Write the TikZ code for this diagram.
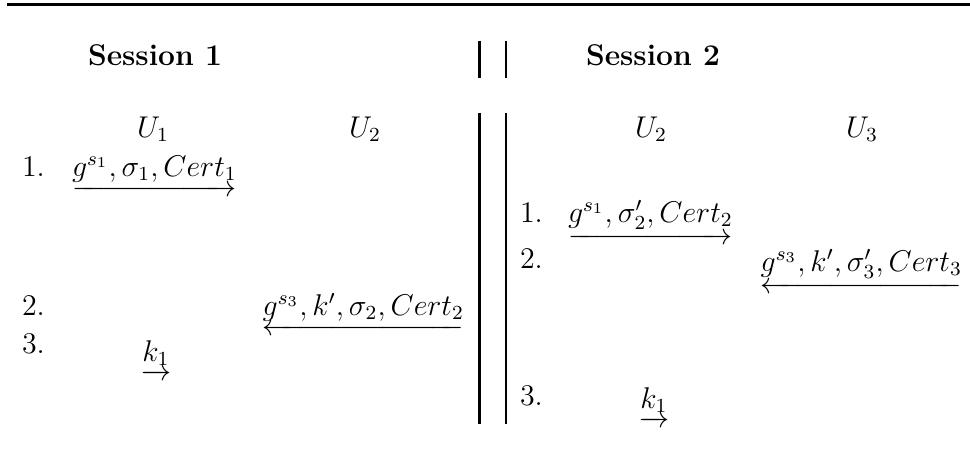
\documentclass[12pt,tikz,border=0pt]{standalone}
\usepackage{amsmath}
\begin{document}
\begin{tikzpicture}[x=0.4pt,y=-0.4pt,
  lbl/.style={inner sep=0pt,outer sep=0pt},
  lw/.style={lbl,anchor=base west},
  le/.style={lbl,anchor=base east},
  lc/.style={lbl,anchor=base},
  thickrule/.style={line width=1.2pt},
  thinrule/.style={line width=0.8pt}]
\useasboundingbox (0,0) rectangle (970,459);
% top rule
\fill (7,3) rectangle (970,6);
% separator lines
\draw[thickrule] (479.5,41) -- (479.5,78);
\draw[thinrule] (506,41) -- (506,78);
\draw[thickrule] (479.5,113) -- (479.5,424);
\draw[thinrule] (506,113) -- (506,424);
% headings
\node[lw] (s1) at (88,66) {\textbf{Session 1}};
\node[lw] (s2) at (586,66) {\textbf{Session 2}};
% participants
\node[lc] (u1) at (153,137) {$U_1$};
\node[lc] (u2) at (365,137) {$U_2$};
\node[lc] (v2) at (651,137) {$U_2$};
\node[lc] (v3) at (862,137) {$U_3$};
% session 1 steps
\node[lw] (a1) at (22,176) {1.};
\node[lw] (m1) at (72,176) {$\underrightarrow{g^{s_1},\sigma_1,Cert_1}$};
\node[lw] (a2) at (22,315) {2.};
\node[le] (m2) at (464,315) {$\underleftarrow{g^{s_3},k',\sigma_2,Cert_2}$};
\node[lw] (a3) at (22,353) {3.};
\node[lw] (m3) at (141,361) {$\underrightarrow{k_1}$};
% session 2 steps
\node[lw] (b1) at (520,222) {1.};
\node[lw] (n1) at (568,222) {$\underrightarrow{g^{s_1},\sigma'_2,Cert_2}$};
\node[lw] (b2) at (520,268) {2.};
\node[le] (n2) at (962,271) {$\underleftarrow{g^{s_3},k',\sigma'_3,Cert_3}$};
\node[lw] (b3) at (520,405) {3.};
\node[lw] (n3) at (639,408) {$\underrightarrow{k_1}$};
\end{tikzpicture}
\end{document}
